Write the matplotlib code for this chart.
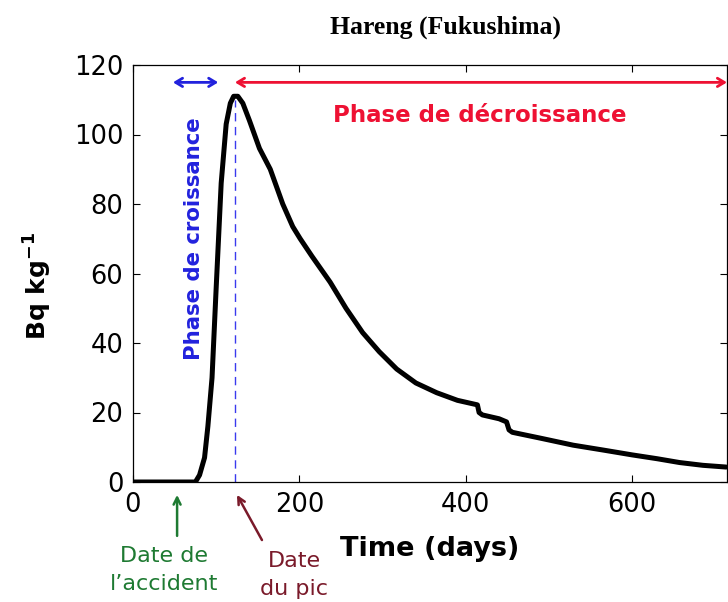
import matplotlib.pyplot as plt

# activity in herring after the accident
days = [0, 75, 80, 86, 90, 95, 100, 106, 112, 117, 121, 126, 132, 140, 152, 165,
        180, 192, 201, 215, 237, 256, 276, 296, 317, 340, 365, 390, 414, 416,
        420, 440, 449, 452, 456, 490, 529, 565, 600, 630, 657, 685, 713]
activity = [0, 0, 2, 7, 16, 30, 56, 86, 103, 109, 111, 111, 109, 104, 96, 90,
            80, 73.5, 70, 65, 57.5, 50, 43, 37.5, 32.5, 28.5, 25.7, 23.5, 22.2, 20,
            19.3, 18.2, 17.3, 15, 14.3, 12.6, 10.6, 9.2, 7.8, 6.7, 5.6, 4.8, 4.3]

accident_day = 53
peak_day = 122.5
peak_value = 110
growth_start = 48
xmax = 714

plt.rcParams['font.family'] = ['DejaVu Sans']

fig = plt.figure(figsize=(7.28, 6.02), dpi=100)
ax = fig.add_axes([133 / 728, 120 / 602, 594 / 728, 417 / 602])

ax.plot(days, activity, color='black', lw=3.6, solid_capstyle='round', solid_joinstyle='round', zorder=3)
ax.plot([peak_day, peak_day], [0, peak_value], color='#3a3aee', lw=1, ls=(0, (6, 4)), zorder=2)

ax.set_xlim(0, xmax)
ax.set_ylim(0, 120)
ax.set_xticks([0, 200, 400, 600])
ax.set_yticks(range(0, 121, 20))
ax.tick_params(direction='in', top=True, right=True, length=5, width=0.8, labelsize=18.5, pad=7)
for s in ax.spines.values():
    s.set_linewidth(0.9)

ax.set_xlabel('Time (days)', fontsize=19.5, fontweight='bold')
ax.xaxis.set_label_coords(0.5, -0.13)
ax.set_ylabel('Bq kg$^{\\mathbf{-1}}$', fontsize=18, fontweight='bold')
ax.yaxis.set_label_coords(-0.133, 0.47)

fig.text(445 / 728, 1 - 27 / 602, 'Hareng (Fukushima)', family='Liberation Serif',
         fontweight='bold', fontsize=18.5, ha='center', va='center')

# phase arrows
ax.annotate('', xy=(growth_start, 115), xytext=(peak_day - 20, 115),
            arrowprops=dict(arrowstyle='<->,head_length=0.5,head_width=0.3', color='#2222dd',
                            lw=2, shrinkA=0, shrinkB=0),
            annotation_clip=False)
ax.annotate('', xy=(peak_day, 115), xytext=(xmax, 115),
            arrowprops=dict(arrowstyle='<->,head_length=0.5,head_width=0.3', color='#ee1133',
                            lw=2, shrinkA=0, shrinkB=0),
            annotation_clip=False)
ax.text(417, 105.5, 'Phase de décroissance', color='#ee1133', fontsize=16.5,
        fontweight='bold', ha='center', va='center')
ax.text(73, 70, 'Phase de croissance', color='#2222dd', fontsize=15.3,
        fontweight='bold', ha='center', va='center', rotation=90)

# dates below the axis
ax.annotate('', xy=(accident_day, -3.7), xytext=(accident_day, -15.5),
            arrowprops=dict(arrowstyle='->,head_length=0.5,head_width=0.25', color='#1e7a32',
                            lw=1.8, shrinkA=0, shrinkB=0),
            annotation_clip=False)
ax.annotate('', xy=(125, -3.7), xytext=(155, -16.7),
            arrowprops=dict(arrowstyle='->,head_length=0.5,head_width=0.25', color='#7a1a2a',
                            lw=1.8, shrinkA=0, shrinkB=0),
            annotation_clip=False)
fig.text(164 / 728, 1 - 570 / 602, 'Date de\nl\u2019accident', color='#1e7a32', fontsize=16,
         ha='center', va='center', linespacing=1.45)
fig.text(294 / 728, 1 - 575 / 602, 'Date\ndu pic', color='#7a1a2a', fontsize=16,
         ha='center', va='center', linespacing=1.45)

plt.savefig('out.png', dpi=100)
